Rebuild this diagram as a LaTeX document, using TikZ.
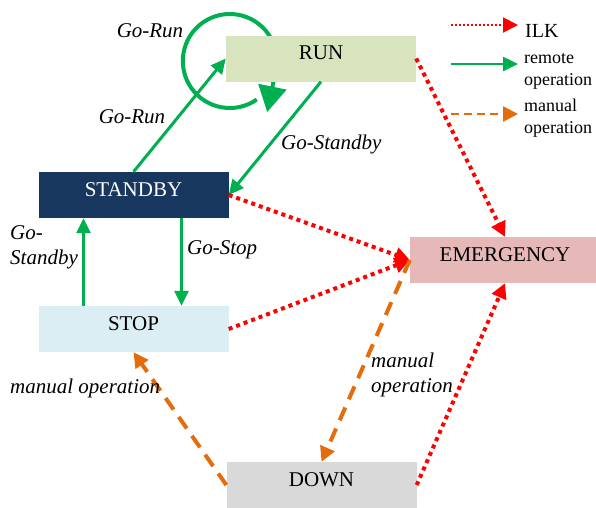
\documentclass[tikz,border=0pt]{standalone}
\usepackage{fontspec}
\setmainfont{Liberation Serif}
\usetikzlibrary{arrows.meta}
\usetikzlibrary{backgrounds}

\definecolor{runfill}{HTML}{D7E4BD}
\definecolor{standbyfill}{HTML}{17375E}
\definecolor{stopfill}{HTML}{DBEEF4}
\definecolor{emergfill}{HTML}{E6B9B8}
\definecolor{downfill}{HTML}{D9D9D9}
\definecolor{opgreen}{HTML}{00B050}
\definecolor{ilkred}{HTML}{FF0000}
\definecolor{manorange}{HTML}{E46C0A}

\begin{document}
\begin{tikzpicture}[x=1pt,y=-1pt,
	state/.style={minimum width=190pt,minimum height=46pt,inner sep=0pt,
		text height=16pt,text depth=14pt,font=\fontsize{21pt}{25pt}\selectfont},
	lbl/.style={inner sep=0pt,align=left,font=\fontsize{21pt}{25pt}\selectfont\itshape},
	legtxt/.style={inner sep=0pt,anchor=west,align=left,font=\fontsize{18pt}{22pt}\selectfont},
	remote/.style={draw=opgreen,line width=3pt,-{Triangle[length=15pt,width=14pt]}},
	ilk/.style={draw=ilkred,line width=4pt,dash pattern=on 4pt off 4pt,-{Triangle[length=15pt,width=15pt]}},
	manual/.style={draw=manorange,line width=4pt,dash pattern=on 14pt off 9pt,-{Triangle[length=15pt,width=15pt]}}]

	\useasboundingbox (0,0) rectangle (596,507);

	% states
	\node[state,fill=runfill] (RUN) at (321,58.5) {RUN};
	\node[state,fill=standbyfill,text=white] (STANDBY) at (133.5,195) {STANDBY};
	\node[state,fill=stopfill] (STOP) at (133.5,329) {STOP};
	\node[state,fill=emergfill] (EMERGENCY) at (505,260) {EMERGENCY};
	\node[state,fill=downfill] (DOWN) at (321.5,485) {DOWN};

	% self loop behind RUN
	\begin{pgfonlayer}{background}
		\coordinate (loopc) at ([xshift=4pt,yshift=-2.5pt]RUN.west);
		\draw[draw=opgreen,line width=4pt,-{Triangle[length=26pt,width=28pt]}]
			([shift={(55:47)}]loopc) arc[start angle=55,end angle=375,radius=47] -- ++(-8,39);
	\end{pgfonlayer}

	% remote operation
	\draw[remote] (STANDBY.north) -- (RUN.west);
	\draw[remote] (RUN.south) -- (STANDBY.east);
	\draw[remote] ([xshift=48pt]STANDBY.south) -- ([xshift=48pt]STOP.north);
	\draw[remote] ([xshift=-50pt]STOP.north) -- ([xshift=-50pt]STANDBY.south);

	% ILK
	\draw[ilk] (RUN.east) -- (EMERGENCY.north);
	\draw[ilk] (STANDBY.east) -- (EMERGENCY.west);
	\draw[ilk] (STOP.east) -- (EMERGENCY.west);
	\draw[ilk] (DOWN.east) -- (EMERGENCY.south);

	% manual operation
	\draw[manual] (DOWN.west) -- (STOP.south);
	\draw[manual] (EMERGENCY.west) -- (DOWN.north);

	% labels
	\node[lbl] (lblloop) at (150,31) {Go-Run};
	\node[lbl] (lblrun) at (132,117) {Go-Run};
	\node[lbl,anchor=west] (lblstby) at (281,144) {Go-Standby};
	\node[lbl,anchor=west] (lblstop) at (187,250) {Go-Stop};
	\node[lbl,anchor=west] (lblup) at (10,247) {Go-\\Standby};
	\node[lbl,anchor=west] (lblman1) at (10,388) {manual operation};
	\node[lbl,anchor=west] (lblman2) at (371,375) {manual\\operation};

	% legend
	\coordinate (lgilkA) at (451,25);
	\coordinate (lgilkB) at (518,25);
	\coordinate (lgremA) at (451,64);
	\coordinate (lgremB) at (518,64);
	\coordinate (lgmanA) at (451,114);
	\coordinate (lgmanB) at (518,114);
	\draw[ilk,line width=2pt,dash pattern=on 2pt off 2pt] (lgilkA) -- (lgilkB);
	\draw[remote,line width=2.5pt] (lgremA) -- (lgremB);
	\draw[manual,line width=2.5pt,dash pattern=on 8pt off 5pt] (lgmanA) -- (lgmanB);
	\node[legtxt,font=\fontsize{20pt}{24pt}\selectfont] (lgilk) at (525,31) {ILK};
	\node[legtxt] (lgrem) at (524,71) {remote\\operation};
	\node[legtxt] (lgman) at (524,118) {manual\\operation};
\end{tikzpicture}
\end{document}
